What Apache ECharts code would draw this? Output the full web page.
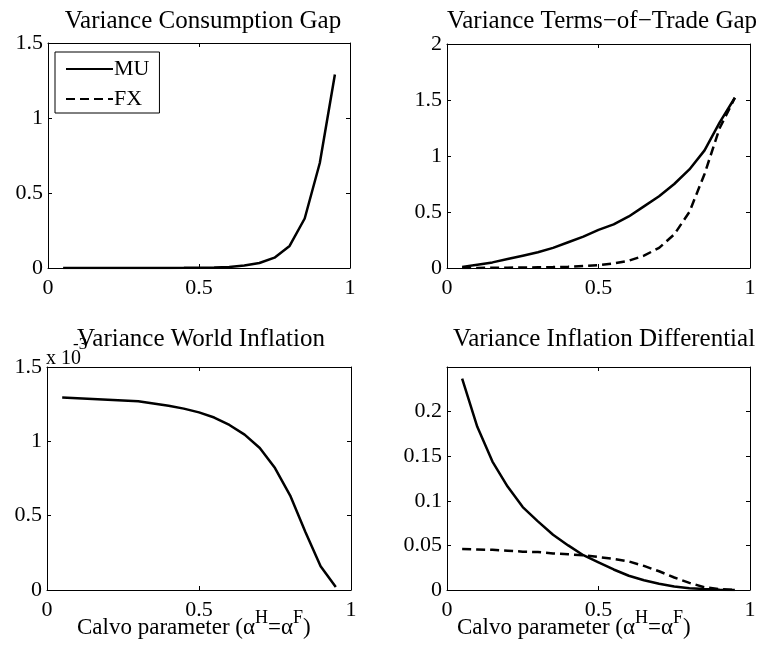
<!DOCTYPE html>
<html>
<head>
<meta charset="utf-8">
<script src="https://cdn.jsdelivr.net/npm/echarts@6/dist/echarts.min.js"></script>
<style>
  html, body { margin: 0; padding: 0; background: #fff; }
  #chart { width: 761px; height: 660px; }
</style>
</head>
<body>
<div id="chart"></div>
<script>
// Calvo parameter grid
const alpha = [0.05, 0.1, 0.15, 0.2, 0.25, 0.3, 0.35, 0.4, 0.45, 0.5,
  0.55, 0.6, 0.65, 0.7, 0.75, 0.8, 0.85, 0.9, 0.95];

// Variance Consumption Gap
const consGapMU = [0.0005, 0.0005, 0.0005, 0.0005, 0.0005, 0.0005, 0.0006, 0.0008, 0.001, 0.0015,
  0.003, 0.007, 0.017, 0.033, 0.069, 0.147, 0.33, 0.70, 1.29];

// Variance Terms-of-Trade Gap
const totGapMU = [0.01, 0.03, 0.05, 0.08, 0.11, 0.14, 0.18, 0.23, 0.28, 0.34,
  0.39, 0.46, 0.55, 0.64, 0.75, 0.88, 1.05, 1.30, 1.52];
const totGapFX = [0, 0.001, 0.002, 0.003, 0.004, 0.006, 0.008, 0.012, 0.017, 0.025,
  0.04, 0.065, 0.11, 0.18, 0.30, 0.50, 0.84, 1.25, 1.52];

// Variance World Inflation (x 10^-3)
const worldInfMU = [1.295, 1.29, 1.285, 1.28, 1.275, 1.27, 1.255, 1.24, 1.22, 1.195,
  1.16, 1.11, 1.045, 0.955, 0.82, 0.635, 0.39, 0.16, 0.02];

// Variance Inflation Differential
const infDiffMU = [0.237, 0.183, 0.144, 0.116, 0.093, 0.077, 0.062, 0.050, 0.039, 0.031,
  0.023, 0.016, 0.011, 0.007, 0.004, 0.002, 0.001, 0.0003, 0];
const infDiffFX = [0.046, 0.0455, 0.045, 0.044, 0.043, 0.0425, 0.041, 0.040, 0.039, 0.037,
  0.035, 0.032, 0.027, 0.021, 0.014, 0.008, 0.003, 0.001, 0];

const titles = ['Variance Consumption Gap', 'Variance Terms\u2212of\u2212Trade Gap',
  'Variance World Inflation', 'Variance Inflation Differential'];
const yRanges = [[0, 1.5, 0.5], [0, 2, 0.5], [0, 1.5, 0.5], [0, 0.25, 0.05]];

const FONT = '"Liberation Serif", "Times New Roman", serif';
const grids = [
  { left: 48, top: 43, width: 302, height: 225 },
  { left: 447, top: 44, width: 303, height: 224 },
  { left: 47, top: 367, width: 304, height: 223 },
  { left: 447, top: 367, width: 303, height: 223 },
];

const pairs = vals => vals.map((v, i) => [alpha[i], v]);

function axisBase(show, margin) {
  return {
    axisLine: { show: true, onZero: false, lineStyle: { color: '#000', width: 1 } },
    axisTick: { show: true, inside: true, length: 4, lineStyle: { color: '#000' } },
    splitLine: { show: false },
    axisLabel: { show: show, color: '#000', fontFamily: FONT, fontSize: 22, margin: margin },
  };
}

const xAxis = [];
const yAxis = [];
grids.forEach((g, i) => {
  ['bottom', 'top'].forEach((pos, k) => {
    xAxis.push(Object.assign(axisBase(k === 0, 9), {
      type: 'value', gridIndex: i, position: pos, min: 0, max: 1, interval: 0.5,
    }));
  });
  const [ymin, ymax, step] = yRanges[i];
  ['left', 'right'].forEach((pos, k) => {
    const ax = Object.assign(axisBase(k === 0, 5), {
      type: 'value', gridIndex: i, position: pos, min: ymin, max: ymax, interval: step,
    });
    // inflation differential panel has no label on the top tick
    if (i === 3) ax.axisLabel.formatter = v => (v > 0.24 ? '' : String(+v.toFixed(2)));
    yAxis.push(ax);
  });
});

function line(name, data, gi, dashed) {
  return {
    name: name, type: 'line', xAxisIndex: gi * 2, yAxisIndex: gi * 2,
    data: data, symbol: 'none', showSymbol: false, silent: true,
    lineStyle: { color: '#000', width: 2.5, type: dashed ? [9, 5] : 'solid' },
    itemStyle: { color: '#000' },
  };
}

const series = [
  line('MU', pairs(consGapMU), 0, false),
  line('FX', [], 0, true),
  line('MU', pairs(totGapMU), 1, false),
  line('FX', pairs(totGapFX), 1, true),
  line('MU', pairs(worldInfMU), 2, false),
  line('MU', pairs(infDiffMU), 3, false),
  line('FX', pairs(infDiffFX), 3, true),
];

const titleCenters = [[203, 21], [602, 21], [201, 339], [604, 339]];
const graphic = [];

// exponent label of the world inflation panel (drawn first, the title covers it)
graphic.push({
  type: 'text', x: 46, y: 369, silent: true,
  style: { text: 'x 10', fill: '#000', font: '20px ' + FONT, textAlign: 'left', textVerticalAlign: 'bottom' },
});
graphic.push({
  type: 'text', x: 73, y: 353, silent: true,
  style: { text: '-3', fill: '#000', font: '17px ' + FONT, textAlign: 'left', textVerticalAlign: 'bottom' },
});

titles.forEach((t, i) => graphic.push({
  type: 'text', x: titleCenters[i][0], y: titleCenters[i][1], silent: true,
  style: { text: t, fill: '#000', font: '25px ' + FONT, textAlign: 'center', textVerticalAlign: 'middle' },
}));

const xlabel = '{a|Calvo parameter (\u03b1}{s|H}{a|=\u03b1}{s|F}{a|)}';
const xlabelRich = {
  a: { fontFamily: FONT, fontSize: 23, fill: '#000', color: '#000', lineHeight: 30, verticalAlign: 'bottom' },
  s: { fontFamily: FONT, fontSize: 18, fill: '#000', color: '#000', lineHeight: 30, verticalAlign: 'top' },
};
[[77, 624], [457, 624]].forEach(p => graphic.push({
  type: 'text', x: p[0], y: p[1], silent: true,
  style: { text: xlabel, rich: xlabelRich, textAlign: 'left', textVerticalAlign: 'middle' },
}));

const chart = echarts.init(document.getElementById('chart'), null, { renderer: 'canvas' });
chart.setOption({
  backgroundColor: '#fff',
  animation: false,
  grid: grids,
  xAxis: xAxis,
  yAxis: yAxis,
  legend: {
    data: ['MU', 'FX'], orient: 'vertical', left: 55, top: 52,
    backgroundColor: '#fff', borderColor: '#000', borderWidth: 1, borderRadius: 0,
    padding: [6, 10, 3, 10], itemWidth: 47, itemHeight: 14, itemGap: 8,
    selectedMode: false,
    itemStyle: { opacity: 0 },
    textStyle: { fontFamily: FONT, fontSize: 22, color: '#000', padding: [0, 0, 0, -4] },
  },
  series: series,
  graphic: graphic,
});
</script>
</body>
</html>
